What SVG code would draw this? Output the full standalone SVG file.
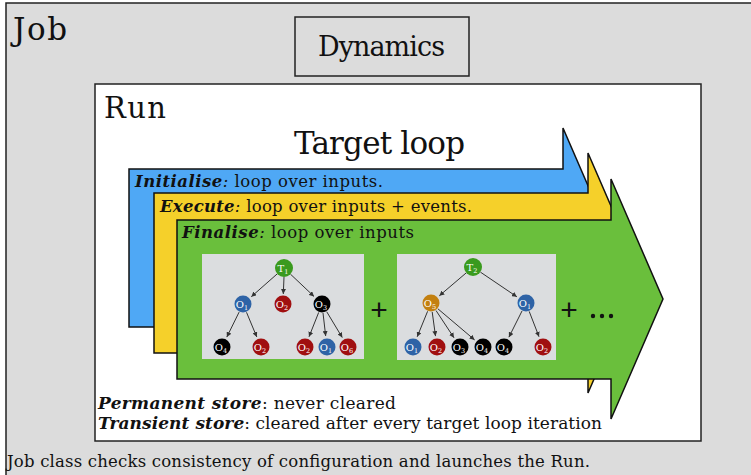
<svg xmlns="http://www.w3.org/2000/svg" width="751" height="475" viewBox="0 0 751 475">
<defs>
<style>
.serif{font-family:"DejaVu Serif","Liberation Serif",serif;fill:#111}
.bi{font-weight:bold;font-style:italic}
.it{font-style:italic}
.box{stroke:#222;stroke-width:1.5}
.arrow{stroke:#111;stroke-width:1.5;stroke-linejoin:miter}
.panel{fill:#dbdddf}
.edge{stroke:#333;stroke-width:1;fill:none;marker-end:url(#ah)}
.nl{font-family:"DejaVu Serif","Liberation Serif",serif;fill:#fff;font-size:10px;text-anchor:middle}
.sub{font-size:6.5px}
.plus{font-family:"Liberation Sans",Arial,sans-serif;font-size:30px;fill:#111;text-anchor:middle}
</style>
<marker id="ah" markerWidth="5" markerHeight="5" refX="5" refY="2.5" orient="auto" markerUnits="userSpaceOnUse">
<path d="M0,0 L5,2.5 L0,5 Z" fill="#333"/>
</marker>
</defs>
<rect width="751" height="475" fill="#ffffff"/>
<g id="job">
<rect x="6" y="3" width="760" height="490" fill="#dcdcdc" class="box"/>
<text x="13" y="40" class="serif" font-size="31" textLength="54">Job</text>
<text x="7" y="467" class="serif" font-size="16.5" textLength="583">Job class checks consistency of configuration and launches the Run.</text>
</g>
<g id="dynamics">
<rect x="295" y="17" width="174" height="59" fill="#dcdcdc" class="box"/>
<text x="318" y="56" class="serif" font-size="27" textLength="127">Dynamics</text>
</g>
<g id="run">
<rect x="95" y="84" width="606" height="357" fill="#ffffff" class="box"/>
<text x="104" y="118" class="serif" font-size="29" textLength="62">Run</text>
<text x="294" y="154" class="serif" font-size="31" textLength="171">Target loop</text>
<text x="98" y="409" class="serif" font-size="17" textLength="298"><tspan class="bi">Permanent store</tspan>: never cleared</text>
<text x="98" y="429" class="serif" font-size="17" textLength="504"><tspan class="bi">Transient store</tspan>: cleared after every target loop iteration</text>
</g>
<g id="initialise">
<polygon class="arrow" fill="#4fa8f5" points="129,169 563,169 563,128 615,248 563,368 563,327 129,327"/>
<text x="135" y="187" class="serif" font-size="16.5" textLength="248"><tspan class="bi">Initialise</tspan><tspan class="it">:</tspan> loop over inputs.</text>
</g>
<g id="execute">
<polygon class="arrow" fill="#f5d02a" points="154,193 588,193 588,153 640,273 588,393 588,353 154,353"/>
<text x="160" y="212" class="serif" font-size="16.5" textLength="312"><tspan class="bi">Execute</tspan><tspan class="it">:</tspan> loop over inputs + events.</text>
</g>
<g id="finalise">
<polygon class="arrow" fill="#6abf3c" points="177,220 611,220 611,179 663,299 611,419 611,379 177,379"/>
<text x="182" y="238" class="serif" font-size="16.5" textLength="232"><tspan class="bi">Finalise</tspan><tspan class="it">:</tspan> loop over inputs</text>
<text x="379" y="320" class="plus">+</text>
<text x="569" y="320" class="plus">+</text>
<circle cx="593" cy="316" r="2.2" fill="#111"/>
<circle cx="602" cy="316" r="2.2" fill="#111"/>
<circle cx="611" cy="316" r="2.2" fill="#111"/>
</g>
<g id="tree1">
<rect class="panel" x="202" y="254" width="162" height="105"/>
</g>
<g id="tree2">
<rect class="panel" x="397" y="254" width="159" height="106"/>
</g>
<g id="connectors">
<line class="edge" x1="277.2" y1="273.9" x2="251.3" y2="296.7"/>
<line class="edge" x1="284" y1="277" x2="283.3" y2="294"/>
<line class="edge" x1="290.5" y1="274.2" x2="314" y2="296.4"/>
<line class="edge" x1="239.1" y1="312.1" x2="226.8" y2="337.1"/>
<line class="edge" x1="246.5" y1="312.3" x2="256.8" y2="337"/>
<line class="edge" x1="318.7" y1="312.4" x2="309" y2="336.8"/>
<line class="edge" x1="323" y1="313" x2="325.7" y2="336"/>
<line class="edge" x1="326.7" y1="311.7" x2="342.3" y2="337.6"/>
<line class="edge" x1="466.2" y1="272.9" x2="439.3" y2="295.8"/>
<line class="edge" x1="480.4" y1="272.1" x2="516.9" y2="296.8"/>
<line class="edge" x1="427.6" y1="311.3" x2="417.2" y2="336.8"/>
<line class="edge" x1="432.2" y1="311.9" x2="435.5" y2="336.1"/>
<line class="edge" x1="436" y1="310.5" x2="454" y2="337.8"/>
<line class="edge" x1="437.9" y1="308.8" x2="474.6" y2="339.9"/>
<line class="edge" x1="522" y1="311" x2="508.9" y2="337.2"/>
<line class="edge" x1="529.2" y1="311.4" x2="539" y2="336.7"/>
</g>
<g id="t1-nodes">
<g id="n-T1"><circle cx="284" cy="268" r="9" fill="#3a9a1e"/><text x="283" y="272" class="nl">T<tspan class="sub" dy="2">1</tspan></text></g>
<g id="n-t1-O1"><circle cx="243" cy="304" r="8.5" fill="#2e63a6"/><text x="242" y="308" class="nl">O<tspan class="sub" dy="2">1</tspan></text></g>
<g id="n-t1-O2"><circle cx="283" cy="304" r="8.5" fill="#a00f10"/><text x="282" y="308" class="nl">O<tspan class="sub" dy="2">2</tspan></text></g>
<g id="n-t1-O3"><circle cx="322" cy="304" r="8.5" fill="#000"/><text x="321" y="308" class="nl">O<tspan class="sub" dy="2">3</tspan></text></g>
<g id="n-t1-O4"><circle cx="222" cy="347" r="8.5" fill="#000"/><text x="221" y="351" class="nl">O<tspan class="sub" dy="2">4</tspan></text></g>
<g id="n-t1-O2b"><circle cx="261" cy="347" r="8.5" fill="#a00f10"/><text x="260" y="351" class="nl">O<tspan class="sub" dy="2">2</tspan></text></g>
<g id="n-t1-O2c"><circle cx="305" cy="347" r="8.5" fill="#a00f10"/><text x="304" y="351" class="nl">O<tspan class="sub" dy="2">2</tspan></text></g>
<g id="n-t1-O1b"><circle cx="327" cy="347" r="8.5" fill="#2e63a6"/><text x="326" y="351" class="nl">O<tspan class="sub" dy="2">1</tspan></text></g>
<g id="n-t1-O6"><circle cx="348" cy="347" r="8.5" fill="#a00f10"/><text x="347" y="351" class="nl">O<tspan class="sub" dy="2">6</tspan></text></g>
</g>
<g id="t2-nodes">
<g id="n-T2"><circle cx="473" cy="267" r="9" fill="#3a9a1e"/><text x="472" y="271" class="nl">T<tspan class="sub" dy="2">2</tspan></text></g>
<g id="n-t2-O5"><circle cx="431" cy="303" r="8.5" fill="#c38010"/><text x="430" y="307" class="nl">O<tspan class="sub" dy="2">5</tspan></text></g>
<g id="n-t2-O1"><circle cx="526" cy="303" r="8.5" fill="#2e63a6"/><text x="525" y="307" class="nl">O<tspan class="sub" dy="2">1</tspan></text></g>
<g id="n-t2-O1b"><circle cx="413" cy="347" r="8.5" fill="#2e63a6"/><text x="412" y="351" class="nl">O<tspan class="sub" dy="2">1</tspan></text></g>
<g id="n-t2-O2"><circle cx="437" cy="347" r="8.5" fill="#a00f10"/><text x="436" y="351" class="nl">O<tspan class="sub" dy="2">2</tspan></text></g>
<g id="n-t2-O3"><circle cx="460" cy="347" r="8.5" fill="#000"/><text x="459" y="351" class="nl">O<tspan class="sub" dy="2">3</tspan></text></g>
<g id="n-t2-O4"><circle cx="483" cy="347" r="8.5" fill="#000"/><text x="482" y="351" class="nl">O<tspan class="sub" dy="2">4</tspan></text></g>
<g id="n-t2-O4b"><circle cx="504" cy="347" r="8.5" fill="#000"/><text x="503" y="351" class="nl">O<tspan class="sub" dy="2">4</tspan></text></g>
<g id="n-t2-O2b"><circle cx="543" cy="347" r="8.5" fill="#a00f10"/><text x="542" y="351" class="nl">O<tspan class="sub" dy="2">2</tspan></text></g>
</g>
</svg>
